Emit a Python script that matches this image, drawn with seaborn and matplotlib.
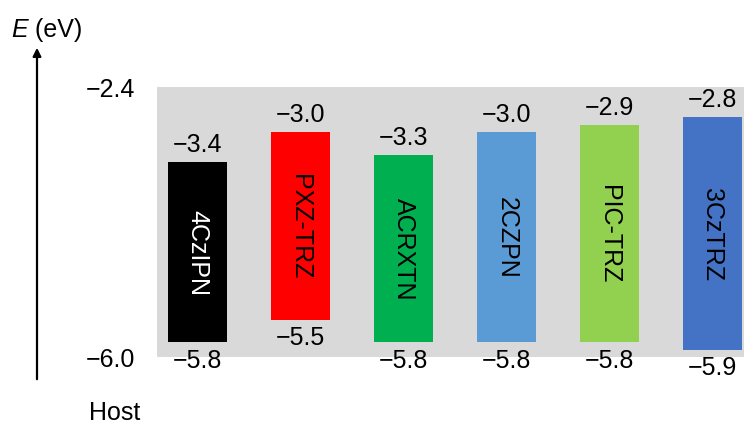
import matplotlib
matplotlib.use("Agg")
import matplotlib.pyplot as plt
import seaborn as sns
import pandas as pd

# Host materials with their LUMO / HOMO energy levels (eV)
hosts = ["4CzIPN", "PXZ-TRZ", "ACRXTN", "2CZPN", "PIC-TRZ", "3CzTRZ"]
lumo = [-3.4, -3.0, -3.3, -3.0, -2.9, -2.8]
homo = [-5.8, -5.5, -5.8, -5.8, -5.8, -5.9]
bar_colors = ["#000000", "#ff0000", "#00b050", "#5b9bd5", "#92d050", "#4472c4"]
text_colors = ["white", "black", "black", "black", "black", "black"]
energy_ticks = [-2.4, -6.0]
energy_tick_labels = ["\u22122.4", "\u22126.0"]

df = pd.DataFrame({
    "host": hosts,
    "gap": [l - h for l, h in zip(lumo, homo)],
    "homo": homo,
    "lumo": lumo,
})

sns.set_theme(style="white")
plt.rcParams["font.family"] = ["Liberation Sans", "DejaVu Sans"]
plt.rcParams["text.color"] = "black"
plt.rcParams["ytick.color"] = "black"

FS = 18

fig = plt.figure(figsize=(7.44, 4.27), dpi=100)
ax = fig.add_axes([157 / 744, 1 - 358 / 427, 587 / 744, 270 / 427])
ax.set_facecolor("#d9d9d9")

# Each bar spans from the HOMO level up to the LUMO level
sns.barplot(data=df, x="host", y="gap", bottom=df["homo"].to_numpy(),
            color="black", saturation=1, facecolor=bar_colors,
            width=0.575, linewidth=0, ax=ax)

ax.set_ylim(-6.0, -2.4)
ax.set_xlim(-0.393, 5.306)
for s in ax.spines.values():
    s.set_visible(False)
ax.set_xticks([])
ax.set_xlabel("")
ax.set_ylabel("")
ax.set_yticks(energy_ticks)
ax.set_yticklabels(energy_tick_labels, fontsize=FS)
ax.tick_params(axis="y", length=0, pad=16)
ax.grid(False)

for i, (name, lo, hi, tc) in enumerate(zip(hosts, lumo, homo, text_colors)):
    ax.annotate(f"{lo:.1f}".replace("-", "\u2212"), xy=(i, lo), xytext=(0, 4),
                textcoords="offset points", ha="center", va="bottom", fontsize=FS)
    ax.annotate(f"{hi:.1f}".replace("-", "\u2212"), xy=(i, hi), xytext=(0, -4),
                textcoords="offset points", ha="center", va="top", fontsize=FS)
    ax.text(i, (lo + hi) / 2, name, rotation=270, ha="center", va="center",
            fontsize=FS, color=tc)

# Energy axis arrow and captions
fig.add_artist(matplotlib.patches.FancyArrowPatch(
    (37 / 744, 1 - 383 / 427), (37 / 744, 1 - 46 / 427),
    transform=fig.transFigure, arrowstyle="-|>", mutation_scale=12,
    color="black", linewidth=1.6))
fig.text(11 / 744, 1 - 30 / 427, "E", fontsize=FS, style="italic",
         va="center", ha="left")
fig.text(28 / 744, 1 - 30 / 427, " (eV)", fontsize=FS, va="center", ha="left")
fig.text(115 / 744, 1 - 413 / 427, "Host", fontsize=FS, va="center", ha="center")

fig.savefig("out.png", dpi=100)
